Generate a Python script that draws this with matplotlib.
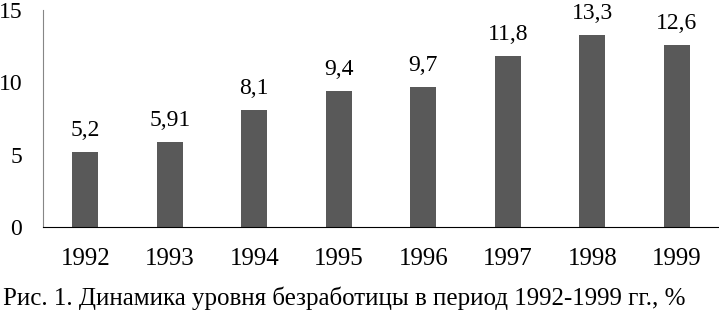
import numpy as np
import matplotlib
matplotlib.use('Agg')
from matplotlib import pyplot as plt

years = ['1992', '1993', '1994', '1995', '1996', '1997', '1998', '1999']
rates = [5.2, 5.91, 8.1, 9.4, 9.7, 11.8, 13.3, 12.6]
rate_labels = ['5,2', '5,91', '8,1', '9,4', '9,7', '11,8', '13,3', '12,6']
caption = 'Рис. 1. Динамика уровня безработицы в период 1992-1999 гг., %'

plt.rcParams['font.family'] = ['Liberation Serif', 'DejaVu Serif']

fig = plt.figure(figsize=(7.19, 3.11), dpi=100)
# оси: x 43..719 px, y 10..227 px
ax = fig.add_axes([43 / 719, (311 - 227) / 311, 676 / 719, 217 / 311])

xx = np.arange(len(years))
ax.bar(xx, rates, width=0.31, color='#595959')
for x, v, lab in zip(xx, rates, rate_labels):
    ax.annotate(lab, (x, v), xytext=(0, 11.5), textcoords='offset points',
                ha='center', va='baseline', fontsize=17)

ax.set_xlim(-0.5, len(years) - 0.5)
ax.set_ylim(0, 15)
ax.set_yticks([0, 5, 10, 15])
ax.set_xticks(xx)
ax.set_xticklabels(years)
ax.tick_params(axis='both', length=0)
ax.tick_params(axis='x', pad=15, labelsize=18)
ax.tick_params(axis='y', pad=15, labelsize=17)

ax.spines['top'].set_visible(False)
ax.spines['right'].set_visible(False)
ax.spines['left'].set_color('#868686')
ax.spines['bottom'].set_color('black')

fig.text(3 / 719, 1 - 305 / 311, caption, ha='left', va='baseline', fontsize=18)

fig.savefig('out.png', dpi=100)
